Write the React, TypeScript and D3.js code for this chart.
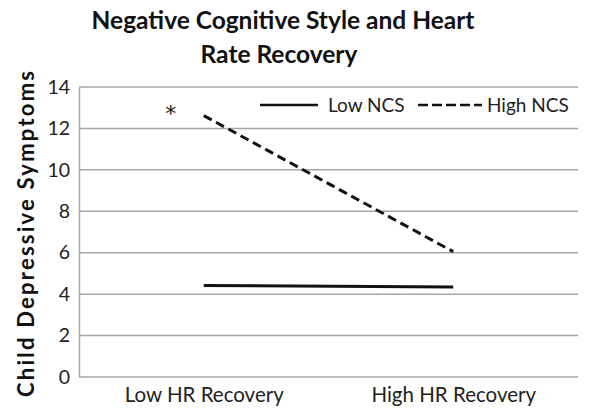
import React, { useRef, useEffect } from "react";
import * as d3 from "d3";

// Values
const categories = ["Low HR Recovery", "High HR Recovery"];
const lowNCS = [4.42, 4.35];
const highNCS = [12.62, 6.05];
const yTicks = [0, 2, 4, 6, 8, 10, 12, 14];
const seriesNames = ["Low NCS", "High NCS"];

const FONT = "Lato, 'Open Sans', sans-serif";

export default function App() {
  const svgRef = useRef<SVGSVGElement>(null);

  useEffect(() => {
    const width = 600;
    const height = 416;
    const svg = d3.select(svgRef.current);
    svg.selectAll("*").remove();

    const margin = { top: 87, right: 22, bottom: 39, left: 79 };
    const w = width - margin.left - margin.right;
    const h = height - margin.top - margin.bottom;

    svg.attr("width", width).attr("height", height).style("background", "#fff");

    // Title
    const title = svg
      .append("text")
      .attr("text-anchor", "middle")
      .attr("font-family", FONT)
      .attr("font-weight", "bold")
      .attr("font-size", "24.5px")
      .attr("fill", "#111");
    title.append("tspan").attr("x", 283).attr("y", 29).text("Negative Cognitive Style and Heart");
    title.append("tspan").attr("x", 279).attr("y", 63).text("Rate Recovery");

    const g = svg.append("g").attr("transform", `translate(${margin.left},${margin.top})`);

    const x = d3.scalePoint<string>().domain(categories).range([0, w]).padding(0.5);
    const y = d3.scaleLinear().domain([0, 14]).range([h, 0]);

    // Gridlines
    g.selectAll(".grid")
      .data(yTicks)
      .join("line")
      .attr("class", "grid")
      .attr("x1", 0)
      .attr("x2", w)
      .attr("y1", (d) => y(d))
      .attr("y2", (d) => y(d))
      .attr("stroke", "#a6a6a6")
      .attr("stroke-width", 1.5);

    // Y axis
    const yAxis = g
      .append("g")
      .call(d3.axisLeft(y).tickValues(yTicks).tickSize(0).tickPadding(9));
    yAxis.select(".domain").attr("stroke", "#a6a6a6").attr("stroke-width", 1.5);
    yAxis
      .selectAll("text")
      .attr("fill", "#222")
      .attr("font-size", "19.5px")
      .attr("font-family", FONT);

    // X axis labels
    const xAxis = g
      .append("g")
      .attr("transform", `translate(0,${h})`)
      .call(d3.axisBottom(x).tickSize(0).tickPadding(10));
    xAxis.select(".domain").remove();
    xAxis
      .selectAll("text")
      .attr("fill", "#222")
      .attr("font-size", "20.5px")
      .attr("font-family", FONT);

    // Y axis title
    svg
      .append("text")
      .attr("transform", `translate(34,${margin.top + h / 2 + 2}) rotate(-90)`)
      .attr("text-anchor", "middle")
      .attr("font-family", FONT)
      .attr("font-weight", "bold")
      .attr("font-size", "22px")
      .attr("fill", "#111")
      .attr("textLength", 326)
      .attr("lengthAdjust", "spacing")
      .text("Child Depressive Symptoms");

    const line = d3
      .line<number>()
      .x((d, i) => x(categories[i]) as number)
      .y((d) => y(d));

    g.append("path")
      .datum(lowNCS)
      .attr("d", line)
      .attr("fill", "none")
      .attr("stroke", "#111")
      .attr("stroke-width", 3);

    g.append("path")
      .datum(highNCS)
      .attr("d", line)
      .attr("fill", "none")
      .attr("stroke", "#111")
      .attr("stroke-width", 3)
      .attr("stroke-dasharray", "9,5");

    // Significance marker
    g.append("text")
      .attr("x", (x(categories[0]) as number) - 33)
      .attr("y", y(13) + 13)
      .attr("text-anchor", "middle")
      .attr("font-family", "'DejaVu Sans', sans-serif")
      .attr("font-size", "22px")
      .attr("fill", "#111")
      .text("*");

    // Legend
    const legend = svg.append("g").attr("font-family", FONT).attr("font-size", "19px").attr("fill", "#222");
    const items = [
      { label: seriesNames[0], x0: 260, len: 58, tx: 328, dash: null },
      { label: seriesNames[1], x0: 418, len: 64, tx: 487, dash: "10,4" },
    ];
    items.forEach((it) => {
      legend
        .append("line")
        .attr("x1", it.x0)
        .attr("x2", it.x0 + it.len)
        .attr("y1", 105)
        .attr("y2", 105)
        .attr("stroke", "#111")
        .attr("stroke-width", 2.5)
        .attr("stroke-dasharray", it.dash);
      legend.append("text").attr("x", it.tx).attr("y", 112).text(it.label);
    });
  }, []);

  return <svg ref={svgRef} style={{ position: "absolute", left: 0, top: 0 }} />;
}
